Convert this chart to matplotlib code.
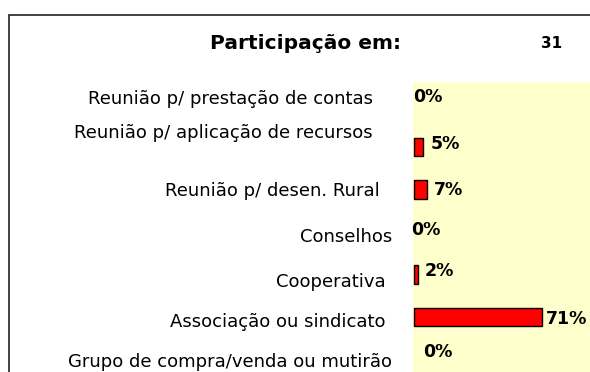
import matplotlib
matplotlib.use("Agg")
import matplotlib.pyplot as plt
import matplotlib.transforms as mtransforms
from matplotlib.patches import Rectangle

# participation categories and share of respondents (%)
categorias = [
    "Reunião p/ prestação de contas",
    "Reunião p/ aplicação de recursos",
    "Reunião p/ desen. Rural",
    "Conselhos",
    "Cooperativa",
    "Associação ou sindicato",
    "Grupo de compra/venda ou mutirão",
]
percentuais = [0, 5, 7, 0, 2, 71, 0]
rotulos = ["0%", "5%", "7%", "0%", "2%", "71%", "0%"]
titulo = "Participação em:"
numero = "31"

# label nudges in points (dx, dy)
cat_dx = [-14, -14, -9, 0, -5, -5, 0]
cat_dy = [5.5, 11.5, 0, -2, -4, -2, 0]
val_dx = [-0.7, 5.8, 5.3, -2.2, 5.3, 3, 6.5]
val_dy = [5.4, 1.8, -0.4, 1.4, 2.5, -1.4, 5.4]

plt.rcParams['font.family'] = ['DejaVu Sans']

fig = plt.figure(figsize=(5.9, 3.72), dpi=100)
W, H = 590, 372

# outer frame (runs off the right and bottom edges)
fig.patches.append(Rectangle((9 / W, -0.2), 2, (H - 15) / H + 0.2,
                             transform=fig.transFigure, fill=False,
                             edgecolor="#222222", linewidth=1.2))

ax = fig.add_axes([413 / W, 0, 177 / W, (H - 81.5) / H])
ax.set_facecolor("#FFFFCC")
for s in ax.spines.values():
    s.set_visible(False)

y = list(range(len(categorias)))
bordas = ["#000000" if v > 0 else "none" for v in percentuais]
ax.barh(y, percentuais, height=0.44, color="#FF0000",
        edgecolor=bordas, linewidth=1.0)
ax.set_xlim(-0.556, 97.8)
ax.set_ylim(6.294, -0.541)

ax.set_xticks([])
ax.set_yticks(y, labels=categorias)
ax.tick_params(axis="y", length=0, pad=15, labelsize=13)
for lab, dx, dy in zip(ax.get_yticklabels(), cat_dx, cat_dy):
    off = mtransforms.ScaledTranslation(dx / 72, dy / 72, fig.dpi_scale_trans)
    lab.set_transform(lab.get_transform() + off)

for i, (v, txt) in enumerate(zip(percentuais, rotulos)):
    ax.annotate(txt, (v, i), xytext=(val_dx[i], val_dy[i]),
                textcoords="offset points", ha="left", va="center",
                fontsize=12.5, fontweight="bold", annotation_clip=False)

fig.text(305.5 / W, 1 - 49 / H, titulo, ha="center", va="baseline",
         fontsize=14.5, fontweight="bold")
fig.text(552 / W, 1 - 48 / H, numero, ha="center", va="baseline",
         fontsize=11, fontweight="bold")

fig.savefig("out.png", dpi=100)
